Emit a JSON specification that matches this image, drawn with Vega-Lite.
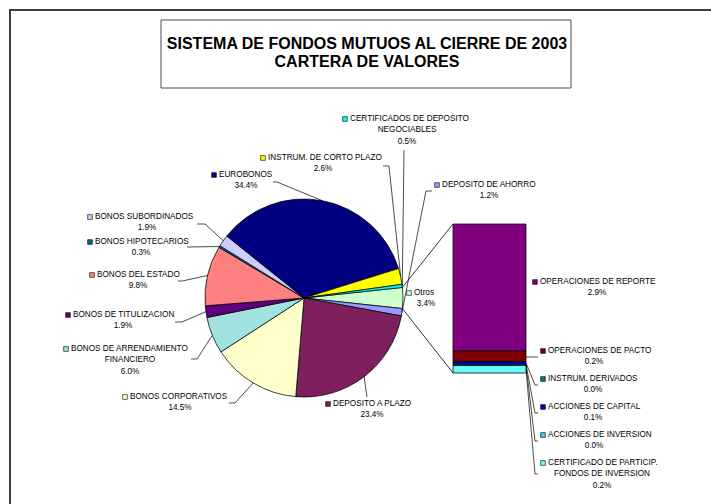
{
  "$schema": "https://vega.github.io/schema/vega-lite/v6.json",
  "width": 711,
  "height": 504,
  "autosize": "none",
  "padding": 0,
  "background": "white",
  "config": {"view": {"stroke": null}, "text": {"font": "Liberation Sans"}},
  "datasets": {
    "items": [
      {"grp": "pie", "ord": 1, "name": "Otros", "pct": 3.4},
      {"grp": "pie", "ord": 2, "name": "DEPOSITO DE AHORRO", "pct": 1.2},
      {"grp": "pie", "ord": 3, "name": "DEPOSITO A PLAZO", "pct": 23.4},
      {"grp": "pie", "ord": 4, "name": "BONOS CORPORATIVOS", "pct": 14.5},
      {"grp": "pie", "ord": 5, "name": "BONOS DE ARRENDAMIENTO FINANCIERO", "pct": 6.0},
      {"grp": "pie", "ord": 6, "name": "BONOS DE TITULIZACION", "pct": 1.9},
      {"grp": "pie", "ord": 7, "name": "BONOS DEL ESTADO", "pct": 9.8},
      {"grp": "pie", "ord": 8, "name": "BONOS HIPOTECARIOS", "pct": 0.3},
      {"grp": "pie", "ord": 9, "name": "BONOS SUBORDINADOS", "pct": 1.9},
      {"grp": "pie", "ord": 10, "name": "EUROBONOS", "pct": 34.4},
      {"grp": "pie", "ord": 11, "name": "INSTRUM. DE CORTO PLAZO", "pct": 2.6},
      {"grp": "pie", "ord": 12, "name": "CERTIFICADOS DE DEPOSITO NEGOCIABLES", "pct": 0.5},
      {"grp": "bar", "ord": 1, "name": "OPERACIONES DE REPORTE", "pct": 2.9},
      {"grp": "bar", "ord": 2, "name": "OPERACIONES DE PACTO", "pct": 0.24},
      {"grp": "bar", "ord": 3, "name": "INSTRUM. DERIVADOS", "pct": 0.01},
      {"grp": "bar", "ord": 4, "name": "ACCIONES DE CAPITAL", "pct": 0.06},
      {"grp": "bar", "ord": 5, "name": "ACCIONES DE INVERSION", "pct": 0.02},
      {"grp": "bar", "ord": 6, "name": "CERTIFICADO DE PARTICIP. FONDOS DE INVERSION", "pct": 0.17}
    ]
  },
  "data": {"name": "items"},
  "layer": [
    {
      "layer": [
        {
          "data": {"values": [{}]},
          "mark": {"type": "rect", "fill": null, "stroke": "#3c3c3c", "strokeWidth": 2},
          "encoding": {
            "x": {"datum": 10, "type": "quantitative", "scale": {"domain": [0, 711], "nice": false, "zero": false}, "axis": null},
            "x2": {"datum": 730},
            "y": {"datum": 10, "type": "quantitative", "scale": {"domain": [0, 504], "reverse": true, "nice": false, "zero": false}, "axis": null},
            "y2": {"datum": 530}
          }
        },
        {
          "data": {"values": [{}]},
          "mark": {"type": "rect", "fill": "white", "stroke": "#4a4a4a", "strokeWidth": 1},
          "encoding": {
            "x": {"datum": 161, "type": "quantitative", "axis": null},
            "x2": {"datum": 571},
            "y": {"datum": 20, "type": "quantitative", "axis": null},
            "y2": {"datum": 88}
          }
        },
        {
          "data": {"values": [{}]},
          "mark": {"type": "text", "align": "center", "baseline": "alphabetic", "fontSize": 16, "fontWeight": "bold", "lineHeight": 17.3, "color": "#000", "font": "Liberation Sans"},
          "encoding": {
            "x": {"datum": 367, "type": "quantitative", "axis": null},
            "y": {"datum": 49.3, "type": "quantitative", "axis": null},
            "text": {"value": ["SISTEMA DE FONDOS MUTUOS AL CIERRE DE 2003", "CARTERA DE VALORES"]}
          }
        },
        {
          "transform": [{"filter": "datum.grp === 'pie'"}],
          "mark": {"type": "arc", "radius": 99, "stroke": "#000", "strokeWidth": 0.75},
          "encoding": {
            "theta": {"field": "pct", "type": "quantitative", "stack": true, "scale": {"range": [1.463871, 7.747056]}},
            "order": {"field": "ord", "type": "quantitative"},
            "color": {
              "field": "name", "type": "nominal", "legend": null,
              "scale": {
                "domain": ["Otros", "DEPOSITO DE AHORRO", "DEPOSITO A PLAZO", "BONOS CORPORATIVOS", "BONOS DE ARRENDAMIENTO FINANCIERO", "BONOS DE TITULIZACION", "BONOS DEL ESTADO", "BONOS HIPOTECARIOS", "BONOS SUBORDINADOS", "EUROBONOS", "INSTRUM. DE CORTO PLAZO", "CERTIFICADOS DE DEPOSITO NEGOCIABLES", "OPERACIONES DE REPORTE", "OPERACIONES DE PACTO", "INSTRUM. DERIVADOS", "ACCIONES DE CAPITAL", "ACCIONES DE INVERSION", "CERTIFICADO DE PARTICIP. FONDOS DE INVERSION"],
                "range": ["#CCFFCC", "#9999FF", "#7E1F5E", "#FFFFCC", "#A0E2E0", "#600080", "#FF8080", "#006699", "#CCCCFF", "#000080", "#FFFF00", "#00FFFF", "#800080", "#800000", "#008080", "#0000CC", "#33CCFF", "#66FFFF"]
              }
            },
            "x": {"datum": 304, "type": "quantitative", "axis": null},
            "y": {"datum": 298, "type": "quantitative", "axis": null}
          }
        },
        {
          "transform": [
            {"filter": "datum.grp === 'pie'"},
            {"window": [{"op": "sum", "field": "pct", "as": "cum"}], "sort": [{"field": "ord", "order": "ascending"}], "frame": [null, 0]},
            {"joinaggregate": [{"op": "sum", "field": "pct", "as": "tot"}]},
            {"filter": "datum.name === 'Otros'"},
            {"calculate": "1.463871 + (datum.cum - datum.pct) / datum.tot * 2 * PI", "as": "a0"},
            {"calculate": "1.463871 + datum.cum / datum.tot * 2 * PI", "as": "a1"},
            {"calculate": "304 + 99 * sin(datum.a0)", "as": "ax0"},
            {"calculate": "298 - 99 * cos(datum.a0)", "as": "ay0"},
            {"calculate": "304 + 99 * sin(datum.a1)", "as": "ax1"},
            {"calculate": "298 - 99 * cos(datum.a1)", "as": "ay1"}
          ],
          "layer": [
            {
              "mark": {"type": "rule", "color": "#000", "strokeWidth": 0.8},
              "encoding": {
                "x": {"field": "ax0", "type": "quantitative", "axis": null},
                "y": {"field": "ay0", "type": "quantitative", "axis": null},
                "x2": {"datum": 453},
                "y2": {"datum": 224}
              }
            },
            {
              "mark": {"type": "rule", "color": "#000", "strokeWidth": 0.8},
              "encoding": {
                "x": {"field": "ax1", "type": "quantitative", "axis": null},
                "y": {"field": "ay1", "type": "quantitative", "axis": null},
                "x2": {"datum": 453},
                "y2": {"datum": 373}
              }
            }
          ]
        },
        {
          "transform": [
            {"window": [{"op": "sum", "field": "pct", "as": "cum"}], "groupby": ["grp"], "sort": [{"field": "ord", "order": "ascending"}], "frame": [null, 0]},
            {"joinaggregate": [{"op": "sum", "field": "pct", "as": "tot"}], "groupby": ["grp"]},
            {"calculate": "1.463871 + (datum.cum - datum.pct / 2) / datum.tot * 2 * PI", "as": "mid"},
            {"calculate": "({'Otros': [414, 293, 426, null, null, null, null, null, null], 'DEPOSITO DE AHORRO': [442, 185, 489, 426, 191, 432, 191, null, null], 'DEPOSITO A PLAZO': [333, 404, 372, 367, 397, 367, 397, null, null], 'BONOS CORPORATIVOS': [130, 397, 180, 235, 403, 229, 403, null, null], 'BONOS DE ARRENDAMIENTO FINANCIERO': [71, 349, 130, 197, 359, 191, 359, null, null], 'BONOS DE TITULIZACION': [73, 315, 123, 182, 322, 175, 322, null, null], 'BONOS DEL ESTADO': [97, 275, 138, 182, 281, 178, 281, null, null], 'BONOS HIPOTECARIOS': [95, 242, 141, 187, 247, 187, 247, null, null], 'BONOS SUBORDINADOS': [95, 217, 147, 205, 224, 197, 224, null, null], 'EUROBONOS': [219, 175, 246, 277, 182, 273, 182, null, null], 'INSTRUM. DE CORTO PLAZO': [268, 158, 323, 389, 166, 383, 166, null, null], 'CERTIFICADOS DE DEPOSITO NEGOCIABLES': [350, 119, 407, 404, 150, 404, 150, null, null], 'OPERACIONES DE REPORTE': [540, 282, 597, null, null, null, null, null, null], 'OPERACIONES DE PACTO': [548, 351, 594, 538, 357, 538, 357, 526, 357], 'INSTRUM. DERIVADOS': [548, 379, 593, 535, 385, 538, 385, 526, 363], 'ACCIONES DE CAPITAL': [548, 407, 593, 535, 413, 538, 413, 526, 364], 'ACCIONES DE INVERSION': [548, 435, 594, 535, 441, 538, 441, 526, 365], 'CERTIFICADO DE PARTICIP. FONDOS DE INVERSION': [548, 463, 602, 535, 474, 538, 474, 526, 369]})[datum.name]", "as": "lay"},
            {"calculate": "({'BONOS DE ARRENDAMIENTO FINANCIERO': ['BONOS DE ARRENDAMIENTO', 'FINANCIERO'], 'CERTIFICADOS DE DEPOSITO NEGOCIABLES': ['CERTIFICADOS DE DEPOSITO', 'NEGOCIABLES'], 'CERTIFICADO DE PARTICIP. FONDOS DE INVERSION': ['CERTIFICADO DE PARTICIP.', 'FONDOS DE INVERSION']})[datum.name]", "as": "brk"},
            {"calculate": "datum.lay[0]", "as": "tx"},
            {"calculate": "datum.lay[0] - 5", "as": "kx"},
            {"calculate": "datum.lay[1]", "as": "ty"},
            {"calculate": "datum.lay[2]", "as": "cx"},
            {"calculate": "datum.lay[3]", "as": "p1x"},
            {"calculate": "datum.lay[4]", "as": "p1y"},
            {"calculate": "datum.lay[5]", "as": "p2x"},
            {"calculate": "datum.lay[6]", "as": "p2y"},
            {"calculate": "datum.grp === 'pie' ? 304 + 99 * sin(datum.mid) : datum.lay[7]", "as": "p0x"},
            {"calculate": "datum.grp === 'pie' ? 298 - 99 * cos(datum.mid) : datum.lay[8]", "as": "p0y"},
            {"calculate": "datum.brk ? datum.brk[0] : datum.name", "as": "l1"},
            {"calculate": "datum.brk ? datum.brk[1] : ''", "as": "l2"},
            {"calculate": "datum.lay[1] + 11.3", "as": "l2y"},
            {"calculate": "datum.lay[1] + (datum.brk ? 22.6 : 11.3)", "as": "py"},
            {"calculate": "format(datum.pct, '.1f') + '%'", "as": "ptxt"}
          ],
          "layer": [
            {
              "transform": [{"filter": "datum.p1x != null"}],
              "mark": {"type": "rule", "color": "#000", "strokeWidth": 0.7},
              "encoding": {
                "x": {"field": "p0x", "type": "quantitative", "axis": null},
                "y": {"field": "p0y", "type": "quantitative", "axis": null},
                "x2": {"field": "p1x"},
                "y2": {"field": "p1y"}
              }
            },
            {
              "transform": [{"filter": "datum.p1x != null"}],
              "mark": {"type": "rule", "color": "#000", "strokeWidth": 0.7},
              "encoding": {
                "x": {"field": "p1x", "type": "quantitative", "axis": null},
                "y": {"field": "p1y", "type": "quantitative", "axis": null},
                "x2": {"field": "p2x"},
                "y2": {"field": "p2y"}
              }
            },
            {
              "mark": {"type": "point", "shape": "square", "filled": true, "size": 22, "stroke": "#000", "strokeWidth": 0.6, "opacity": 1},
              "encoding": {
                "x": {"field": "kx", "type": "quantitative", "axis": null},
                "y": {"field": "ty", "type": "quantitative", "axis": null},
                "color": {"field": "name", "type": "nominal", "legend": null}
              }
            },
            {
              "mark": {"type": "text", "align": "left", "baseline": "middle", "fontSize": 8.2, "color": "#000", "font": "Liberation Sans"},
              "encoding": {
                "x": {"field": "tx", "type": "quantitative", "axis": null},
                "y": {"field": "ty", "type": "quantitative", "axis": null},
                "text": {"field": "l1"}
              }
            },
            {
              "transform": [{"filter": "datum.l2 !== ''"}],
              "mark": {"type": "text", "align": "center", "baseline": "middle", "fontSize": 8.2, "color": "#000", "font": "Liberation Sans"},
              "encoding": {
                "x": {"field": "cx", "type": "quantitative", "axis": null},
                "y": {"field": "l2y", "type": "quantitative", "axis": null},
                "text": {"field": "l2"}
              }
            },
            {
              "mark": {"type": "text", "align": "center", "baseline": "middle", "fontSize": 8.2, "color": "#000", "font": "Liberation Sans"},
              "encoding": {
                "x": {"field": "cx", "type": "quantitative", "axis": null},
                "y": {"field": "py", "type": "quantitative", "axis": null},
                "text": {"field": "ptxt"}
              }
            }
          ]
        }
      ]
    },
    {
      "transform": [
        {"filter": "datum.grp === 'bar'"},
        {"stack": "pct", "groupby": ["grp"], "sort": [{"field": "ord", "order": "ascending"}], "as": ["b0", "b1"]}
      ],
      "mark": {"type": "rect", "stroke": "#000", "strokeWidth": 0.75},
      "encoding": {
        "x": {"datum": 453, "type": "quantitative", "axis": null},
        "x2": {"datum": 526},
        "y": {"field": "b0", "type": "quantitative", "stack": null, "scale": {"range": [224, 373], "nice": false, "zero": true}, "axis": null},
        "y2": {"field": "b1"},
        "color": {"field": "name", "type": "nominal", "legend": null}
      }
    }
  ],
  "resolve": {"scale": {"y": "independent"}}
}
